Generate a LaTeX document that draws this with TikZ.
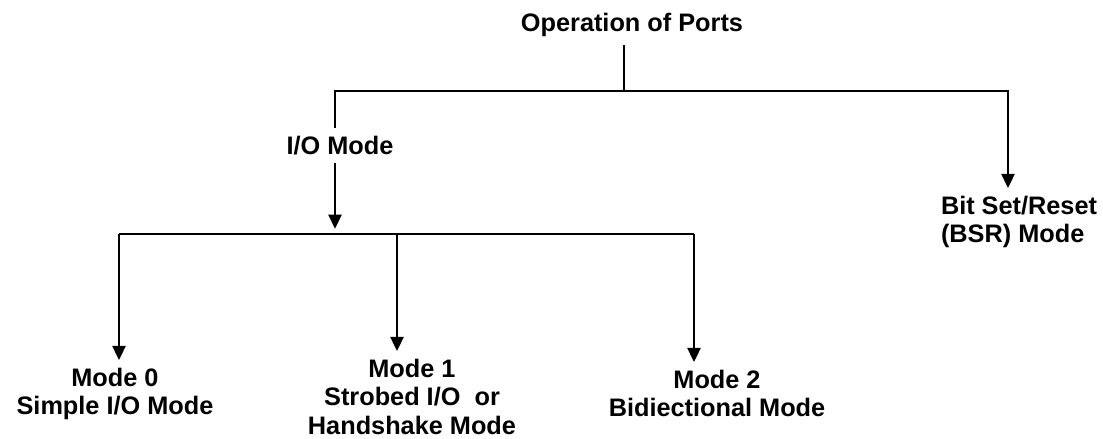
\documentclass[tikz,border=0pt]{standalone}
\usepackage{fontspec}
\setmainfont{Liberation Sans}
\usetikzlibrary{arrows.meta, positioning}

\begin{document}
\begin{tikzpicture}[x=0.02cm, y=-0.02cm, line width=1.1pt,
    lbl/.style={font=\fontsize{14.4}{16.3}\selectfont\bfseries, inner sep=4pt},
    tip/.style={-{Triangle[width=7.5pt, length=8pt]}}]
    \useasboundingbox (0,0) rectangle (1103,439);

    % Labels
    \node[lbl, anchor=base] (ports) at (632,32) {Operation of Ports};
    \node[lbl, anchor=base] (io) at (340,154) {I/O Mode};
    \node[lbl, anchor=north west, align=left] (bsr) at (933,188) {Bit Set/Reset\\(BSR) Mode};
    \node[lbl, anchor=north, align=center] (m0) at (115,360) {Mode 0\\Simple I/O Mode};
    \node[lbl, anchor=north, align=center] (m1) at (412,351) {Mode 1\\Strobed I/O~ or\\Handshake Mode};
    \node[lbl, anchor=north, align=center] (m2) at (717,362) {Mode 2\\Bidiectional Mode};

    % Junctions
    \coordinate (top) at (624,91);
    \coordinate (right) at (1008,91);
    \coordinate (fork) at (335,234);
    \coordinate (b0) at (119,234);
    \coordinate (b1) at (397,234);
    \coordinate (b2) at (694,234);

    % Top level
    \draw (ports.south -| top) -- (top);
    \draw[tip] (io.north -| fork) |- (right) -- (bsr.north -| right);

    % I/O modes
    \draw[tip, shorten >=3pt] (io.south -| fork) -- (fork);
    \draw (b0) -- (b2);
    \foreach \m in {0, 1, 2}
        \draw[tip] (b\m) -- (m\m.north -| b\m);
\end{tikzpicture}
\end{document}
